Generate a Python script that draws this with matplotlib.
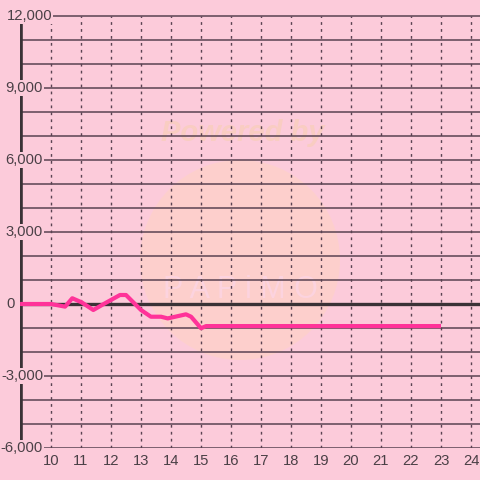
import matplotlib
matplotlib.use("Agg")
import matplotlib.pyplot as plt
from matplotlib.patches import Ellipse

# ---- data ----
hours = [8.97, 10.0, 10.3, 10.47, 10.71, 11.02, 11.41, 11.8, 12.3, 12.5, 13.0, 13.33,
         13.67, 13.89, 14.5, 14.67, 15.0, 15.17, 23.0]
values = [0, 0, -70, -110, 240, 70, -250, 30, 375, 375, -250, -530,
          -530, -600, -430, -530, -1010, -920, -920]
x_ticks = list(range(10, 25))
y_ticks = [12000, 9000, 6000, 3000, 0, -3000, -6000]
y_labels = ["12,000", "9,000", "6,000", "3,000", "0", "-3,000", "-6,000"]
grid_y = list(range(-6000, 12001, 1000))

BG = "#fccbda"
TXT = "#4a4046"
GRID = "#5a4352"
AXIS = "#3a3236"
LINE = "#ff3399"
FONT = "Liberation Sans"

fig = plt.figure(figsize=(4.8, 4.8), dpi=100, facecolor=BG)
ax = fig.add_axes([20/480, 32/480, 460/480, 448/480])
ax.set_facecolor(BG)
X0, X1 = 8.967, 24.3
Y0, Y1 = -6000, 12666.7
ax.set_xlim(X0, X1)
ax.set_ylim(Y0, Y1)
for s in ax.spines.values():
    s.set_visible(False)
ax.set_xticks([]); ax.set_yticks([])

def px2x(px):
    return X0 + (px - 20) / 30.0

def py2y(py):
    return Y1 - py / 0.024

# watermark
ax.add_patch(Ellipse((px2x(240), py2y(260)), 200/30, 200/0.024,
                     facecolor="#ffd4c2", edgecolor="none", alpha=0.55, zorder=0.5))
ax.text(px2x(243), py2y(133), "Powered by", fontsize=21, fontweight="bold",
        style="italic", color="#f9cdc2", ha="center", va="center",
        family=FONT, zorder=0.6)
ax.text(px2x(240), py2y(290), "P A P i M O", fontsize=22, color="#fcd3df",
        ha="center", va="center", family=FONT, zorder=0.6)

# horizontal grid
for g in grid_y:
    ax.plot([X0, X1], [g, g], color=GRID, lw=1.1, zorder=1)
# vertical dotted grid
for t in x_ticks:
    ax.plot([t, t], [-6000, 12000], color=GRID, lw=1.0, ls=(0, (2, 3)), zorder=1)

# zero line & left axis
ax.plot([X0, X1], [0, 0], color=AXIS, lw=2.4, zorder=2)
ax.plot([X0 + 0.02, X0 + 0.02], [-6000, 12000], color=AXIS, lw=2.6, zorder=2,
        solid_capstyle="butt")

# data line
ax.plot(hours, values, color=LINE, lw=3.0, zorder=3, solid_joinstyle="round",
        solid_capstyle="butt")

# y labels
for v, lab in zip(y_ticks, y_labels):
    if lab == "12,000":
        xr = 52
    elif lab == "0":
        xr = 15
    else:
        xr = 43
    ax.text(px2x(xr), v, lab, ha="right", va="center", fontsize=10.6,
            color=TXT, family=FONT, zorder=5,
            bbox=dict(facecolor=BG, edgecolor="none", pad=1.0))

# x labels
for t in x_ticks:
    ax.text(t, py2y(461), str(t), ha="center", va="center",
            fontsize=10.6, color=TXT, family=FONT, zorder=5, clip_on=False)

fig.savefig("out.png", dpi=100, facecolor=BG)
